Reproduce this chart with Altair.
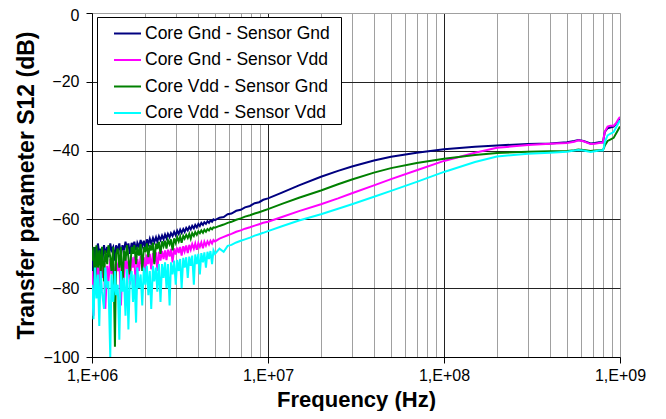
import altair as alt
import pandas as pd

# Frequencies in MHz (sweep points)
freq_mhz = [1.00, 1.02, 1.04, 1.06, 1.08, 1.10, 1.12, 1.14,
            1.17, 1.19, 1.22, 1.24, 1.27, 1.29, 1.32, 1.35, 1.37, 1.40,
            1.43, 1.46, 1.49, 1.52, 1.55, 1.58, 1.61, 1.64, 1.68, 1.71,
            1.74, 1.78, 1.81, 1.85, 1.89, 1.93, 1.97, 2.01, 2.05, 2.09,
            2.13, 2.17, 2.22, 2.26, 2.31, 2.35, 2.40, 2.45, 2.50, 2.55,
            2.60, 2.65, 2.70, 2.76, 2.81, 2.87, 2.93, 2.99, 3.05, 3.11,
            3.17, 3.23, 3.30, 3.36, 3.43, 3.50, 3.57, 3.64, 3.71, 3.79,
            3.86, 3.94, 4.02, 4.10, 4.18, 4.27, 4.35, 4.44, 4.53, 4.62,
            4.71, 4.81, 4.90, 5.00,
            5.3, 5.6, 5.9, 6.2, 6.6, 7.0, 7.4, 7.9, 8.4, 8.9, 9.4, 10,
            12, 15, 20, 25, 30, 40, 50, 70, 100, 150, 200, 300, 400, 500, 550, 580, 620, 680, 720,
            760, 800, 810, 820, 850, 880, 920, 950, 980, 1000]

core_gnd_sensor_gnd = [-69, -84, -68, -72, -67, -70, -68.5, -73,
                       -67.5, -70, -68, -71, -67, -69, -68, -72, -67.5, -69,
                       -67, -70.5, -67.5, -69, -66.5, -68.5, -67, -70, -66.8, -68,
                       -66.5, -69, -66.8, -68, -66, -67.8, -66.2, -68.5, -65.8, -67.2,
                       -65.6, -67, -65.4, -66.6, -65.2, -66.5, -64.9, -66, -64.7, -65.8,
                       -64.4, -65.5, -64.2, -65.2, -64, -64.8, -63.6, -64.6, -63.3, -64.2,
                       -63, -63.9, -62.8, -63.6, -62.5, -63.2, -62.2, -62.9, -61.9, -62.6,
                       -61.6, -62.3, -61.3, -61.9, -61.0, -61.6, -60.8, -61.3, -60.5, -61.0,
                       -60.3, -60.7, -60.0, -60.2,
                       -59.5, -59.3, -58.5, -58.3, -57.5, -57.2, -56.5, -56.1, -55.3, -55.0, -54.3, -53.9,
                       -52.2, -50.1, -47.6, -45.9, -44.6, -42.9, -41.8, -40.6, -39.6, -38.9, -38.5, -38.1, -37.9,
                       -37.6, -37.2, -36.9, -37.2, -37.9, -37.8, -37.6, -37.6, -36.0, -34.6, -33.5, -33.3, -33.0,
                       -32.2, -31.3, -30.8]

core_gnd_sensor_vdd = [-75, -88, -73, -79, -72, -81, -74, -77,
                       -72, -86, -73.5, -78, -71.5, -76, -73, -80, -72, -75,
                       -71.5, -85, -72.5, -77, -71, -74.5, -72, -79, -71, -74,
                       -70.8, -82, -71.5, -75, -70.5, -73.5, -71, -77, -70.2, -73,
                       -70, -74.5, -69.8, -72.5, -69.6, -75, -69.4, -72, -69.2, -71.5,
                       -69, -71.8, -68.8, -70.8, -68.6, -72.5, -68.4, -70.2, -68.2, -69.8,
                       -68, -70.5, -67.8, -69.3, -67.6, -69.8, -67.4, -68.8, -67.2, -68.5,
                       -67, -68.8, -66.9, -68, -66.7, -68.4, -66.5, -67.6, -66.4, -67.3,
                       -66.2, -67, -66, -66.4,
                       -65.6, -65.1, -64.6, -64.2, -63.6, -63.2, -62.7, -62.3, -61.8, -61.4, -61.0, -60.7,
                       -59.3, -57.6, -55.6, -53.9, -52.4, -50.1, -48.3, -45.7, -43.0, -40.6, -39.2, -38.4, -38.0,
                       -37.8, -37.4, -37.0, -37.3, -38.1, -38.0, -37.8, -37.7, -36.0, -34.5, -33.0, -32.8, -32.8,
                       -32.0, -30.8, -30.2]

core_vdd_sensor_gnd = [-72, -68, -80, -67.5, -74, -69, -76, -68,
                       -78, -69, -73, -67.5, -71, -75, -68, -97, -70, -68.5,
                       -74, -68, -80, -69, -72, -67.5, -71, -76, -68, -70,
                       -67.5, -73, -68, -70.5, -67.2, -75, -68, -69.5, -67, -71,
                       -67.5, -69, -66.8, -73, -67, -68.6, -66.5, -70, -66.4, -67.8,
                       -66.2, -68.5, -66, -67.2, -65.8, -69, -65.5, -66.8, -65.2, -66.4,
                       -65, -66.8, -64.8, -65.6, -64.5, -65.4, -64.2, -65.6, -64, -64.8,
                       -63.7, -64.5, -63.5, -64, -63.2, -63.9, -63, -63.6, -62.8, -63.2,
                       -62.5, -62.9, -62.3, -62.4,
                       -61.9, -61.5, -61.0, -60.7, -60.1, -59.7, -59.2, -58.8, -58.3, -57.9, -57.5, -57.0,
                       -55.5, -53.7, -51.6, -49.8, -48.4, -46.4, -45.1, -43.6, -42.4, -41.3, -40.7, -40.3, -40.2,
                       -40.1, -39.9, -39.7, -39.8, -40.1, -40.0, -39.9, -39.8, -39.3, -38.5, -37.2, -36.8, -36.3,
                       -35.0, -33.8, -33.0]

core_vdd_sensor_vdd = [-79, -89, -74, -83, -76, -91, -75, -81,
                       -86, -74, -80, -78, -100, -76, -84, -75, -82, -79,
                       -95, -75, -81, -77, -88, -74.5, -92, -78, -75, -84,
                       -76, -90, -74, -80, -76, -85, -74, -79, -73.5, -82,
                       -75, -86, -73.5, -78, -74, -81, -73, -84, -73, -77,
                       -72.5, -80, -73, -85, -72.5, -76, -72, -79, -71.8, -75,
                       -71.5, -80, -71.2, -74, -71, -77, -70.8, -73.5, -70.5, -79,
                       -70.2, -73, -70, -76, -69.8, -72.5, -69.6, -74, -69.4, -71.5,
                       -69.2, -73, -69, -70,
                       -68.5, -69.4, -67.7, -67.4, -66.7, -66.2, -65.8, -65.3, -64.7, -64.3, -63.9, -63.4,
                       -62.0, -60.3, -58.5, -56.9, -55.6, -53.4, -51.7, -49.1, -46.2, -43.3, -41.7, -40.9, -40.6,
                       -40.3, -40.0, -39.8, -40.0, -40.4, -40.2, -40.0, -40.0, -39.0, -37.5, -35.6, -35.1, -34.6,
                       -33.3, -32.0, -31.2]

series_names = ["Core Gnd - Sensor Gnd", "Core Gnd - Sensor Vdd",
                "Core Vdd - Sensor Gnd", "Core Vdd - Sensor Vdd"]
series_colors = ["#000080", "#ff00ff", "#008000", "#00ffff"]
series_values = [core_gnd_sensor_gnd, core_gnd_sensor_vdd, core_vdd_sensor_gnd, core_vdd_sensor_vdd]

y_ticks = [-100, -80, -60, -40, -20, 0]
x_ticks = [m * 10 ** e for e in (6, 7, 8) for m in range(1, 10)] + [10 ** 9]

rows = []
for name, vals in zip(series_names, series_values):
    for i, (f, v) in enumerate(zip(freq_mhz, vals)):
        rows.append({"series": name, "freq": f * 1e6, "value": v, "idx": i})
df = pd.DataFrame(rows)

is_decade = "abs(log(datum.value)/LN10 - round(log(datum.value)/LN10)) < 0.001"
is_inner_decade = "(" + is_decade + ") && datum.value < 9e8"

font = "Liberation Sans"

chart = alt.Chart(df).mark_line(strokeWidth=2, clip=True).encode(
    x=alt.X("freq:Q",
            scale=alt.Scale(type="log", domain=[1e6, 1e9], nice=False),
            axis=alt.Axis(
                title="Frequency  (Hz)",
                values=x_ticks,
                labelExpr="(" + is_decade + ") ? '1,E+0' + round(log(datum.value)/LN10) : ''",
                gridColor={"condition": {"test": is_inner_decade, "value": "#222222"}, "value": "#a0a0a0"},
                tickColor={"condition": {"test": is_decade, "value": "#000000"}, "value": "transparent"},
                tickSize=6, labelPadding=4, labelFontSize=16, labelColor="#000000",
                labelFont=font, titleFont=font, titleFontSize=22, titleFontWeight="bold",
                titleColor="#000000", titlePadding=6, domainColor="#000000", labelFlush=False,
                labelOverlap=False)),
    y=alt.Y("value:Q",
            scale=alt.Scale(domain=[-100, 0], nice=False),
            axis=alt.Axis(
                title="Transfer parameter S12 (dB)",
                values=y_ticks,
                gridColor={"condition": {"test": "datum.value == 0", "value": "#a0a0a0"}, "value": "#222222"},
                labelOffset={"condition": {"test": "datum.value == 0", "value": 2}, "value": 0},
                tickColor="#000000", tickSize=6, labelPadding=7, labelFontSize=16,
                labelColor="#000000", labelFont=font, titleFont=font, titleFontSize=23,
                titleFontWeight="bold", titleColor="#000000", titlePadding=4,
                domainColor="#000000")),
    color=alt.Color("series:N",
                    scale=alt.Scale(domain=series_names, range=series_colors),
                    legend=alt.Legend(
                        title="\u00a0", titleOrient="right", titlePadding=9, titleFontSize=10,
                        orient="none", legendX=5, legendY=4,
                        fillColor="#ffffff", strokeColor="#000000", padding=2,
                        symbolType="stroke", symbolSize=729, symbolStrokeWidth=2,
                        symbolOffset=14, labelOffset=3, labelFontSize=17.5, labelFont=font,
                        labelColor="#000000", rowPadding=3.5, labelLimit=400)),
    order=alt.Order("idx:Q"),
).properties(
    width=528, height=344,
    autosize=alt.AutoSizeParams(type="none"),
    padding={"left": 84, "top": 5, "right": 38, "bottom": 54},
).configure_view(stroke="#a0a0a0").configure(font=font)

chart.save("out.html", embed_options={"renderer": "svg", "actions": False})
